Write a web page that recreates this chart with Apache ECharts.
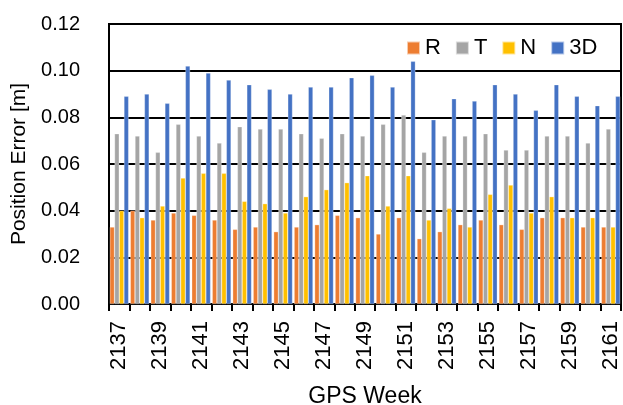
<!DOCTYPE html>
<html><head><meta charset="utf-8">
<script src="https://cdn.jsdelivr.net/npm/echarts@6/dist/echarts.min.js"></script>
<style>html,body{margin:0;padding:0;background:#fff}#c{width:623px;height:405px}</style>
</head><body><div id="c"></div>
<script>
const weeks = ['2137','2138','2139','2140','2141','2142','2143','2144','2145','2146','2147','2148','2149','2150','2151','2152','2153','2154','2155','2156','2157','2158','2159','2160','2161'];
const R  = [0.033,0.040,0.036,0.039,0.038,0.036,0.032,0.033,0.031,0.033,0.034,0.038,0.037,0.030,0.037,0.028,0.031,0.034,0.036,0.034,0.032,0.037,0.037,0.033,0.033];
const T  = [0.073,0.072,0.065,0.077,0.072,0.069,0.076,0.075,0.075,0.073,0.071,0.073,0.072,0.077,0.081,0.065,0.072,0.072,0.073,0.066,0.066,0.072,0.072,0.069,0.075];
const N  = [0.040,0.037,0.042,0.054,0.056,0.056,0.044,0.043,0.039,0.046,0.049,0.052,0.055,0.042,0.055,0.036,0.041,0.033,0.047,0.051,0.039,0.046,0.037,0.037,0.033];
const D3 = [0.089,0.090,0.086,0.102,0.099,0.096,0.094,0.092,0.090,0.093,0.093,0.097,0.098,0.093,0.104,0.079,0.088,0.087,0.094,0.090,0.083,0.094,0.089,0.085,0.089];
const seriesNames = ['R','T','N','3D'];
const seriesData = [R, T, N, D3];
const colors = ['#ED7D31','#A5A5A5','#FFC000','#4472C4'];
const font = 'Liberation Sans, Arial, sans-serif';

const chart = echarts.init(document.getElementById('c'), null, {renderer:'canvas'});
chart.setOption({
  animation:false,
  color: colors,
  grid:{left:109, right:2, top:24, bottom:101, containLabel:false, outerBoundsMode:'none',
        show:true, borderColor:'#000', borderWidth:2, backgroundColor:'transparent'},
  legend:{
    data: seriesNames, left:406, top:37, padding:0, itemWidth:13, itemHeight:13, itemGap:14,
    icon:'rect',
    textStyle:{fontFamily:font, fontSize:22, color:'#000'}
  },
  xAxis:{
    type:'category', data:weeks,
    name:'GPS Week', nameLocation:'middle', nameGap:81,
    nameTextStyle:{fontFamily:font, fontSize:23, color:'#000'},
    axisLine:{lineStyle:{color:'#000', width:2}},
    axisTick:{show:true, interval:0, length:7, lineStyle:{color:'#000', width:2}},
    axisLabel:{interval:1, rotate:90, margin:17, fontFamily:font, fontSize:22, color:'#000'}
  },
  yAxis:{
    type:'value', min:0, max:0.12, interval:0.02,
    name:'Position Error [m]', nameLocation:'middle', nameGap:79,
    nameTextStyle:{fontFamily:font, fontSize:21, color:'#000'},
    axisLine:{show:true, lineStyle:{color:'#000', width:2}},
    axisTick:{show:false},
    axisLabel:{margin:29, fontFamily:font, fontSize:20, color:'#000', formatter:v=>v.toFixed(2)},
    splitLine:{show:true, lineStyle:{color:'#000', width:2}}
  },
  series: seriesNames.map((n,i)=>({
    name:n, type:'bar', data:seriesData[i],
    barGap:'0%', barCategoryGap:'8%',
    itemStyle:{color:colors[i], borderColor:'rgba(255,255,255,0.6)', borderWidth:0.5}
  }))
});
</script></body></html>
